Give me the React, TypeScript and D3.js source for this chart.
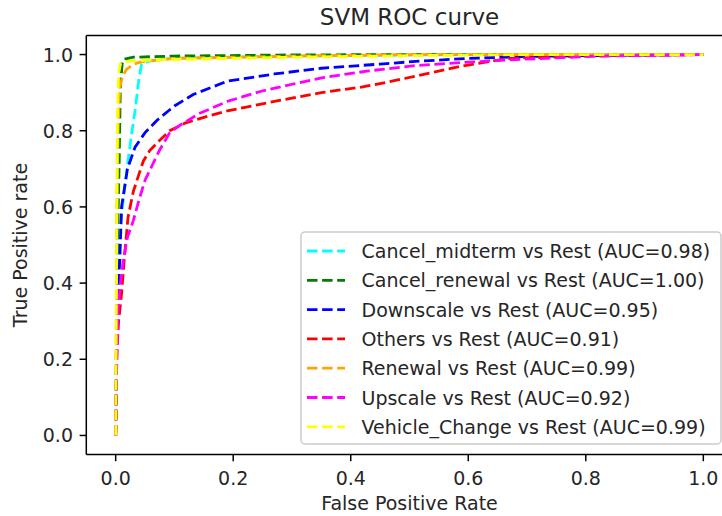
import React from "react";
import * as d3 from "d3";

const seriesNames = [
  "Cancel_midterm",
  "Cancel_renewal",
  "Downscale",
  "Others",
  "Renewal",
  "Upscale",
  "Vehicle_Change",
];
const aucValues = ["0.98", "1.00", "0.95", "0.91", "0.99", "0.92", "0.99"];
const seriesColors = ["cyan", "green", "blue", "red", "orange", "magenta", "yellow"];

const cancelMidterm: [number, number][] = [
  [0, 0], [0.001, 0.15], [0.002, 0.3], [0.004, 0.45], [0.008, 0.55], [0.013, 0.62],
  [0.021, 0.72], [0.027, 0.79], [0.033, 0.853], [0.039, 0.93], [0.044, 0.975],
  [0.06, 0.985], [0.1, 0.99], [0.3, 0.996], [0.6, 1], [1, 1],
];
const cancelRenewal: [number, number][] = [
  [0, 0], [0.001, 0.2], [0.003, 0.5], [0.006, 0.72], [0.008, 0.92], [0.011, 0.975],
  [0.013, 0.987], [0.03, 0.993], [0.1, 0.996], [0.3, 0.999], [0.5, 1], [1, 1],
];
const downscale: [number, number][] = [
  [0, 0], [0.001, 0.15], [0.003, 0.35], [0.007, 0.46], [0.01, 0.6], [0.02, 0.7],
  [0.033, 0.757], [0.05, 0.795], [0.07, 0.827], [0.1, 0.865], [0.132, 0.895],
  [0.19, 0.93], [0.27, 0.949], [0.35, 0.964], [0.45, 0.975], [0.51, 0.982],
  [0.6, 0.99], [0.7, 0.995], [0.85, 0.998], [1, 1],
];
const others: [number, number][] = [
  [0, 0], [0.001, 0.1], [0.002, 0.22], [0.005, 0.3], [0.01, 0.372], [0.015, 0.47],
  [0.021, 0.573], [0.03, 0.64], [0.036, 0.669], [0.047, 0.72], [0.058, 0.748],
  [0.075, 0.775], [0.092, 0.8], [0.118, 0.82], [0.15, 0.835], [0.19, 0.852],
  [0.27, 0.877], [0.35, 0.9], [0.42, 0.915], [0.47, 0.93], [0.53, 0.95],
  [0.59, 0.97], [0.67, 0.99], [0.8, 0.996], [1, 1],
];
const renewal: [number, number][] = [
  [0, 0], [0.001, 0.3], [0.002, 0.6], [0.004, 0.8], [0.007, 0.914], [0.012, 0.945],
  [0.019, 0.962], [0.03, 0.974], [0.041, 0.98], [0.1, 0.99], [0.3, 0.996], [0.5, 1], [1, 1],
];
const upscale: [number, number][] = [
  [0, 0], [0.0005, 0.09], [0.002, 0.2], [0.004, 0.33], [0.008, 0.4], [0.013, 0.46],
  [0.02, 0.52], [0.03, 0.564], [0.04, 0.62], [0.05, 0.67], [0.058, 0.696],
  [0.075, 0.75], [0.092, 0.795], [0.11, 0.815], [0.142, 0.845], [0.16, 0.857],
  [0.19, 0.877], [0.246, 0.903], [0.3, 0.922], [0.355, 0.94], [0.43, 0.957],
  [0.51, 0.971], [0.6, 0.98], [0.67, 0.986], [0.82, 0.996], [1, 1],
];
const vehicleChange: [number, number][] = [
  [0, 0], [0.001, 0.3], [0.002, 0.6], [0.003, 0.85], [0.005, 0.95], [0.008, 0.975],
  [0.02, 0.982], [0.05, 0.985], [0.1, 0.987], [0.2, 0.99], [0.3, 0.993],
  [0.5, 0.997], [0.7, 1], [1, 1],
];
const seriesData = [cancelMidterm, cancelRenewal, downscale, others, renewal, upscale, vehicleChange];

const xTicks = [0, 0.2, 0.4, 0.6, 0.8, 1.0];
const yTicks = [0, 0.2, 0.4, 0.6, 0.8, 1.0];

const W = 722;
const H = 516;
const FONT = "'DejaVu Sans', sans-serif";
const TEXT = "#262626";

export default function App() {
  const x = d3.scaleLinear().domain([-0.05, 1.05]).range([86.3, 732.7]);
  const y = d3.scaleLinear().domain([-0.05, 1.05]).range([454.5, 35.5]);
  const line = d3
    .line<[number, number]>()
    .x((d) => x(d[0]))
    .y((d) => y(d[1]));

  const left = x(-0.05);
  const right = x(1.05);
  const top = y(1.05);
  const bottom = y(-0.05);
  const dash = "10.5,4.6";
  const lw = 2.8;

  const legX = 301;
  const legY = 232;
  const legW = 420;
  const legH = 212;
  const rowY0 = 251;
  const rowStep = 29.3;

  return (
    <div style={{ position: "absolute", left: 0, top: 0 }}>
      <svg width={W} height={H} style={{ display: "block", background: "white" }}>
        <defs>
          <clipPath id="plotclip">
            <rect x={left} y={top} width={right - left} height={bottom - top} />
          </clipPath>
        </defs>
        <text x={(left + right) / 2} y={25} textAnchor="middle" fontFamily={FONT} fontSize={23} fill={TEXT}>
          SVM ROC curve
        </text>
        <g clipPath="url(#plotclip)">
          {seriesData.map((s, i) => (
            <path
              key={i}
              d={line(s) || ""}
              fill="none"
              stroke={seriesColors[i]}
              strokeWidth={lw}
              strokeDasharray={dash}
            />
          ))}
        </g>
        {/* spines */}
        <line x1={left} x2={left} y1={top} y2={bottom} stroke="#000" strokeWidth={1.5} />
        <line x1={left} x2={right} y1={bottom} y2={bottom} stroke="#000" strokeWidth={1.5} />
        <line x1={left} x2={right} y1={top} y2={top} stroke="#000" strokeWidth={1.5} />
        <line x1={right} x2={right} y1={top} y2={bottom} stroke="#000" strokeWidth={1.5} />
        {/* x ticks */}
        {xTicks.map((t) => (
          <g key={"x" + t}>
            <line x1={x(t)} x2={x(t)} y1={bottom} y2={bottom + 6.7} stroke="#000" strokeWidth={1.5} />
            <text x={x(t)} y={485} textAnchor="middle" fontFamily={FONT} fontSize={19} fill={TEXT}>
              {t.toFixed(1)}
            </text>
          </g>
        ))}
        {yTicks.map((t) => (
          <g key={"y" + t}>
            <line x1={left - 6.7} x2={left} y1={y(t)} y2={y(t)} stroke="#000" strokeWidth={1.5} />
            <text x={73} y={y(t) + 7} textAnchor="end" fontFamily={FONT} fontSize={19} fill={TEXT}>
              {t.toFixed(1)}
            </text>
          </g>
        ))}
        <text x={(left + right) / 2} y={510} textAnchor="middle" fontFamily={FONT} fontSize={19} fill={TEXT}>
          False Positive Rate
        </text>
        <text
          transform={`translate(27,${(top + bottom) / 2}) rotate(-90)`}
          textAnchor="middle"
          fontFamily={FONT}
          fontSize={19}
          fill={TEXT}
        >
          True Positive rate
        </text>
        {/* legend */}
        <rect x={legX} y={legY} width={legW} height={legH} rx={4} ry={4} fill="white" fillOpacity={0.8} stroke="#cccccc" strokeWidth={1.5} />
        {seriesNames.map((n, i) => {
          const cy = rowY0 + i * rowStep;
          return (
            <g key={n}>
              <line x1={307} x2={345} y1={cy} y2={cy} stroke={seriesColors[i]} strokeWidth={lw} strokeDasharray={dash} />
              <text x={361.5} y={cy + 7} fontFamily={FONT} fontSize={19} fill={TEXT}>
                {`${n} vs Rest (AUC=${aucValues[i]})`}
              </text>
            </g>
          );
        })}
      </svg>
    </div>
  );
}
